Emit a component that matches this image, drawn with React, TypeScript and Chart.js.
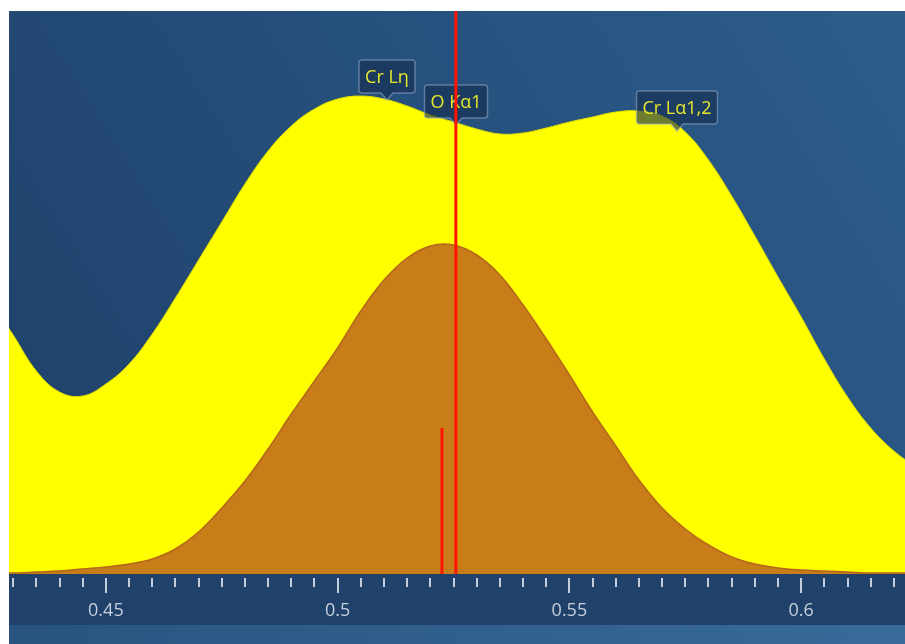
import { useEffect, useRef } from 'react';
import { Chart, registerables } from 'chart.js';

Chart.register(...registerables);

// Energy grid (keV) and counts
const energyGrid = [
  0.425, 0.43, 0.435, 0.44, 0.445, 0.45, 0.455, 0.46, 0.465, 0.47,
  0.475, 0.48, 0.485, 0.49, 0.495, 0.5, 0.505, 0.51, 0.515, 0.52,
  0.525, 0.53, 0.535, 0.54, 0.545, 0.55, 0.555, 0.56, 0.565, 0.57,
  0.575, 0.58, 0.585, 0.59, 0.595, 0.6, 0.605, 0.61, 0.615, 0.62, 0.625,
];
const totalCounts = [
  274, 239, 203, 182, 178, 190, 210, 240, 276, 314,
  352, 390, 423, 448, 465, 475, 478, 475, 468, 459,
  452, 445, 440, 441, 446, 452, 457, 462, 463, 458,
  442, 414, 378, 338, 297, 257, 215, 177, 146, 123, 106,
];
const oxygenCounts = [
  1, 1, 2, 3, 5, 7, 10, 15, 25, 42,
  66, 93, 125, 160, 193, 226, 263, 294, 316, 328,
  329, 319, 299, 269, 235, 199, 162, 128, 94, 66,
  45, 29, 17, 10, 6, 4, 3, 2, 1, 1, 1,
];

const markerNames = ['Cr Lη', 'O Kα1', 'Cr Lα1,2'];
const markerEnergies = [0.5106, 0.5255, 0.5732];
const markerTipCounts = [474, 449, 443];

const oKaLineEnergy = 0.5255;
const oKaStickEnergy = 0.5225;
const oKaStickCounts = 146;

const xMin = 0.4291;
const xMax = 0.6224;
const yMax = 563;
const tickStep = 0.005;
const majorStep = 0.05;

const isMajor = (v: number) => Math.abs(v / majorStep - Math.round(v / majorStep)) < 1e-6;

const bgPlugin = {
  id: 'bgPlugin',
  beforeDraw(chart: any) {
    const { ctx, chartArea: ca, width, height } = chart;
    ctx.save();
    const g = ctx.createLinearGradient(ca.left, ca.bottom, ca.right, ca.top);
    g.addColorStop(0, '#1e4069');
    g.addColorStop(1, '#2c5d8c');
    ctx.fillStyle = g;
    ctx.fillRect(ca.left, ca.top, ca.right - ca.left, ca.bottom - ca.top);
    ctx.fillStyle = '#1f416a';
    ctx.fillRect(0, ca.bottom, width, 51);
    const g2 = ctx.createLinearGradient(0, 0, width, 0);
    g2.addColorStop(0, '#28547f');
    g2.addColorStop(1, '#386b9a');
    ctx.fillStyle = g2;
    ctx.fillRect(0, ca.bottom + 51, width, height - ca.bottom - 51);
    ctx.restore();
  },
  afterDraw(chart: any) {
    const { ctx, chartArea: ca } = chart;
    const xs = chart.scales.x;
    ctx.save();
    ctx.fillStyle = '#c3ccd8';
    xs.ticks.forEach((t: any) => {
      const px = xs.getPixelForValue(t.value);
      const len = isMajor(t.value) ? 15 : 9;
      ctx.fillRect(Math.round(px) - 1, ca.bottom + 4, 2, len);
    });
    ctx.restore();
  },
  beforeDatasetDraw(chart: any, args: any) {
    if (args.index !== 0) return;
    const { ctx } = chart;
    const xs = chart.scales.x;
    const ys = chart.scales.y;
    ctx.save();
    ctx.font = '18px "Open Sans"';
    markerNames.forEach((name, i) => {
      const px = Math.round(xs.getPixelForValue(markerEnergies[i]));
      const tipY = ys.getPixelForValue(markerTipCounts[i]);
      const w = Math.round(ctx.measureText(name).width + 12);
      const h = 33;
      const notch = 7;
      const left = px - w / 2;
      const right = px + w / 2;
      const bottom = tipY - notch;
      const top = bottom - h;
      const r = 3;
      ctx.beginPath();
      ctx.moveTo(left + r, top);
      ctx.lineTo(right - r, top);
      ctx.quadraticCurveTo(right, top, right, top + r);
      ctx.lineTo(right, bottom - r);
      ctx.quadraticCurveTo(right, bottom, right - r, bottom);
      ctx.lineTo(px + 6, bottom);
      ctx.lineTo(px, tipY);
      ctx.lineTo(px - 6, bottom);
      ctx.lineTo(left + r, bottom);
      ctx.quadraticCurveTo(left, bottom, left, bottom - r);
      ctx.lineTo(left, top + r);
      ctx.quadraticCurveTo(left, top, left + r, top);
      ctx.closePath();
      ctx.fillStyle = 'rgba(22,45,78,0.62)';
      ctx.fill();
      ctx.lineWidth = 1.5;
      ctx.strokeStyle = 'rgba(150,170,200,0.55)';
      ctx.stroke();
      ctx.fillStyle = '#e8e82c';
      ctx.textAlign = 'center';
      ctx.textBaseline = 'middle';
      ctx.fillText(name, px, top + h / 2 + 1);
    });
    ctx.restore();
  },
};

export default function App() {
  const ref = useRef<HTMLCanvasElement>(null);
  useEffect(() => {
    if (!ref.current) return;
    const chart = new Chart(ref.current, {
      type: 'line',
      data: {
        datasets: [
          {
            label: 'O Kα1',
            data: [{ x: oKaLineEnergy, y: 0 }, { x: oKaLineEnergy, y: yMax }],
            borderColor: '#ff1500',
            borderWidth: 3,
            pointRadius: 0,
            fill: false,
            order: 0,
          },
          {
            label: 'O Kα1 stick',
            data: [{ x: oKaStickEnergy, y: 0 }, { x: oKaStickEnergy, y: oKaStickCounts }],
            borderColor: '#ff1500',
            borderWidth: 3,
            pointRadius: 0,
            fill: false,
            order: 0,
          },
          {
            label: 'O',
            data: energyGrid.map((e, i) => ({ x: e, y: oxygenCounts[i] })),
            borderColor: '#b4661c',
            backgroundColor: '#c87d19',
            borderWidth: 1.5,
            pointRadius: 0,
            fill: 'origin',
            tension: 0.4,
            order: 1,
          },
          {
            label: 'Total',
            data: energyGrid.map((e, i) => ({ x: e, y: totalCounts[i] })),
            borderColor: '#dede00',
            backgroundColor: '#ffff00',
            borderWidth: 1,
            pointRadius: 0,
            fill: 'origin',
            tension: 0.4,
            order: 2,
          },
        ],
      },
      options: {
        animation: false,
        responsive: true,
        maintainAspectRatio: false,
        layout: { autoPadding: false, padding: { left: 0, right: 0, top: 0, bottom: 19 } },
        plugins: { legend: { display: false }, tooltip: { enabled: false } },
        scales: {
          x: {
            type: 'linear',
            min: xMin,
            max: xMax,
            grid: { display: false, drawTicks: false },
            border: { display: false },
            ticks: {
              stepSize: tickStep,
              autoSkip: false,
              includeBounds: false,
              maxRotation: 0,
              minRotation: 0,
              padding: 26,
              color: '#c6cfdc',
              font: { family: 'Open Sans', size: 18 },
              callback: (v: any) => (isMajor(Number(v)) ? String(Number(Number(v).toFixed(3))) : ''),
            },
            afterFit: (s: any) => {
              s.height = 51;
              s.paddingLeft = 0;
              s.paddingRight = 0;
            },
          },
          y: { display: false, min: 0, max: yMax },
        },
      },
      plugins: [bgPlugin],
    } as any);
    return () => chart.destroy();
  }, []);
  return (
    <div style={{ position: 'fixed', left: 9, top: 11, width: 896, height: 633 }}>
      <canvas ref={ref} />
    </div>
  );
}
